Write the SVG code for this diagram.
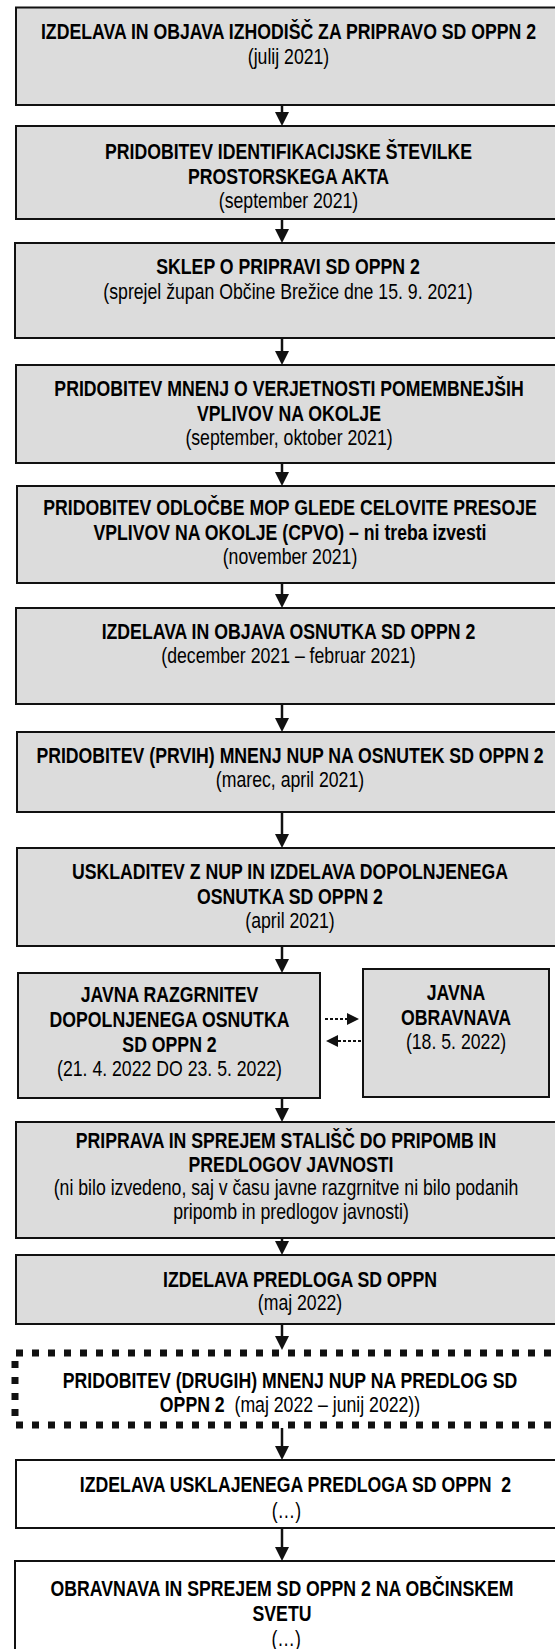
<svg xmlns="http://www.w3.org/2000/svg" width="555" height="1649" viewBox="0 0 555 1649">
<style>
.g{fill:#dcdcdc;stroke:#111;stroke-width:2}
.w{fill:#fff;stroke:#111;stroke-width:2}
text{font-family:"Liberation Sans",Arial,sans-serif;font-size:21.3px;fill:#000;text-anchor:middle}
.b{font-weight:bold}
.c{stroke:#111;stroke-width:2.5;fill:none}
.d{stroke:#111;stroke-width:2;fill:none;stroke-dasharray:3 2}
.dot{stroke:#111;stroke-width:7;fill:none;stroke-dasharray:7 9}
</style>
<defs>
<marker id="ah" markerUnits="userSpaceOnUse" markerWidth="14" markerHeight="14" refX="0" refY="7" orient="auto"><path d="M0,0 L14,7 L0,14 z" fill="#111"/></marker>
<marker id="ah2" markerUnits="userSpaceOnUse" markerWidth="12" markerHeight="12" refX="0" refY="6" orient="auto"><path d="M0,0 L12,6 L0,12 z" fill="#111"/></marker>
</defs>
<rect width="555" height="1649" fill="#fff"/>
<g id="n1"><rect class="g" x="16" y="7.5" width="546" height="97.5"/>
<g transform="translate(288.5 0) scale(0.83 1)"><text class="b" x="0" y="39.5">IZDELAVA IN OBJAVA IZHODIŠČ ZA PRIPRAVO SD OPPN 2</text><text x="0" y="64.5">(julij 2021)</text></g></g>
<g id="n2"><rect class="g" x="16" y="126" width="546" height="93"/>
<g transform="translate(288.5 0) scale(0.83 1)"><text class="b" x="0" y="159.5">PRIDOBITEV IDENTIFIKACIJSKE ŠTEVILKE</text><text class="b" x="0" y="184">PROSTORSKEGA AKTA</text><text x="0" y="208.5">(september 2021)</text></g></g>
<g id="n3"><rect class="g" x="15" y="243" width="547" height="95"/>
<g transform="translate(288 0) scale(0.83 1)"><text class="b" x="0" y="274.5">SKLEP O PRIPRAVI SD OPPN 2</text><text x="0" y="299.5">(sprejel župan Občine Brežice dne 15. 9. 2021)</text></g></g>
<g id="n4"><rect class="g" x="16" y="365" width="546" height="98"/>
<g transform="translate(289 0) scale(0.83 1)"><text class="b" x="0" y="396.5">PRIDOBITEV MNENJ O VERJETNOSTI POMEMBNEJŠIH</text><text class="b" x="0" y="421">VPLIVOV NA OKOLJE</text><text x="0" y="445.5">(september, oktober 2021)</text></g></g>
<g id="n5"><rect class="g" x="17" y="486" width="545" height="97"/>
<g transform="translate(290 0) scale(0.83 1)"><text class="b" x="0" y="515.5">PRIDOBITEV ODLOČBE MOP GLEDE CELOVITE PRESOJE</text><text class="b" x="0" y="540">VPLIVOV NA OKOLJE (CPVO) – ni treba izvesti</text><text x="0" y="564.5">(november 2021)</text></g></g>
<g id="n6"><rect class="g" x="16" y="608" width="546" height="96"/>
<g transform="translate(288.5 0) scale(0.83 1)"><text class="b" x="0" y="639.5">IZDELAVA IN OBJAVA OSNUTKA SD OPPN 2</text><text x="0" y="663.5">(december 2021 – februar 2021)</text></g></g>
<g id="n7"><rect class="g" x="17" y="732" width="545" height="80"/>
<g transform="translate(290 0) scale(0.83 1)"><text class="b" x="0" y="763.5">PRIDOBITEV (PRVIH) MNENJ NUP NA OSNUTEK SD OPPN 2</text><text x="0" y="787.5">(marec, april 2021)</text></g></g>
<g id="n8"><rect class="g" x="17" y="848" width="545" height="98"/>
<g transform="translate(290 0) scale(0.83 1)"><text class="b" x="0" y="879.5">USKLADITEV Z NUP IN IZDELAVA DOPOLNJENEGA</text><text class="b" x="0" y="904">OSNUTKA SD OPPN 2</text><text x="0" y="928.5">(april 2021)</text></g></g>
<g id="n9"><rect class="g" x="18" y="973" width="302" height="125"/>
<g transform="translate(169.5 0) scale(0.83 1)"><text class="b" x="0" y="1002.5">JAVNA RAZGRNITEV</text><text class="b" x="0" y="1027.5">DOPOLNJENEGA OSNUTKA</text><text class="b" x="0" y="1052">SD OPPN 2</text><text x="0" y="1076.5">(21. 4. 2022 DO 23. 5. 2022)</text></g></g>
<g id="n10"><rect class="g" x="363" y="969" width="186" height="128"/>
<g transform="translate(456 0) scale(0.83 1)"><text class="b" x="0" y="1000.5">JAVNA</text><text class="b" x="0" y="1025.5">OBRAVNAVA</text><text x="0" y="1049.5">(18. 5. 2022)</text></g></g>
<g id="n11"><rect class="g" x="16" y="1122" width="546" height="116"/>
<g transform="translate(286 0) scale(0.83 1)"><text class="b" x="0" y="1148.5">PRIPRAVA IN SPREJEM STALIŠČ DO PRIPOMB IN</text><text class="b" x="6" y="1172">PREDLOGOV JAVNOSTI</text><text x="0" y="1195.5">(ni bilo izvedeno, saj v času javne razgrnitve ni bilo podanih</text><text x="6" y="1219">pripomb in predlogov javnosti)</text></g></g>
<g id="n12"><rect class="g" x="16" y="1255" width="546" height="69"/>
<g transform="translate(300 0) scale(0.83 1)"><text class="b" x="0" y="1287.5">IZDELAVA PREDLOGA SD OPPN</text><text x="0" y="1310.5">(maj 2022)</text></g></g>
<g id="n13"><path class="dot" d="M16,1353 H560 M16,1425 H560 M15,1361 V1421"/>
<g transform="translate(290 0) scale(0.83 1)"><text class="b" x="0" y="1388.5">PRIDOBITEV (DRUGIH) MNENJ NUP NA PREDLOG SD</text><text x="0" y="1412.5" xml:space="preserve" style="white-space:pre"><tspan class="b">OPPN 2</tspan>  (maj 2022 – junij 2022))</text></g></g>
<g id="n14"><rect class="w" x="16" y="1460" width="546" height="68"/>
<g transform="translate(295.5 0) scale(0.83 1)"><text class="b" x="0" y="1492.5" xml:space="preserve" style="white-space:pre">IZDELAVA USKLAJENEGA PREDLOGA SD OPPN  2</text><text x="-11" y="1518.5">(…)</text></g></g>
<g id="n15"><rect class="w" x="15" y="1561" width="547" height="100"/>
<g transform="translate(282 0) scale(0.83 1)"><text class="b" x="0" y="1596.5">OBRAVNAVA IN SPREJEM SD OPPN 2 NA OBČINSKEM</text><text class="b" x="0" y="1621.5">SVETU</text><text x="5" y="1646.5">(…)</text></g></g>
<g id="connectors">
<path class="c" marker-end="url(#ah)" d="M282,105 V112"/>
<path class="c" marker-end="url(#ah)" d="M282,219 V229"/>
<path class="c" marker-end="url(#ah)" d="M282,338 V351"/>
<path class="c" marker-end="url(#ah)" d="M282,463 V472"/>
<path class="c" marker-end="url(#ah)" d="M282,583 V594"/>
<path class="c" marker-end="url(#ah)" d="M282,704 V718"/>
<path class="c" marker-end="url(#ah)" d="M282,812 V834"/>
<path class="c" marker-end="url(#ah)" d="M282,946 V959"/>
<path class="c" marker-end="url(#ah)" d="M282,1098 V1108"/>
<path class="c" marker-end="url(#ah)" d="M282,1238 V1241"/>
<path class="c" marker-end="url(#ah)" d="M282,1324 V1336"/>
<path class="c" marker-end="url(#ah)" d="M282,1428 V1446"/>
<path class="c" marker-end="url(#ah)" d="M282,1528 V1547"/>
<path class="d" marker-end="url(#ah2)" d="M325,1019 H347"/>
<path class="d" marker-end="url(#ah2)" d="M361,1041 H338"/>
</g>
</svg>
